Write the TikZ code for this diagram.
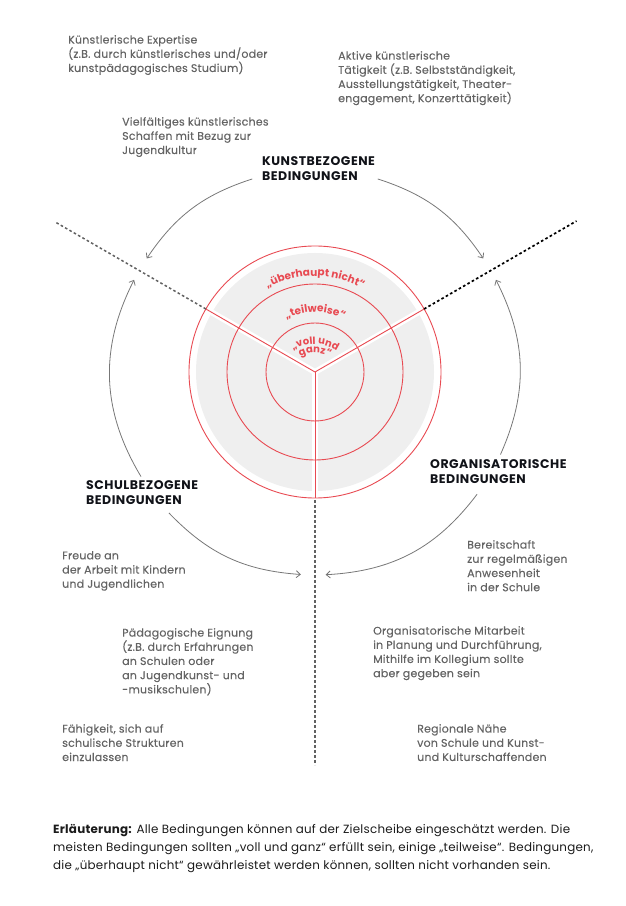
\documentclass[tikz,border=0pt]{standalone}
\usepackage{fontspec}
\setmainfont{Poppins}
\newfontfamily\headfont[LetterSpace=4]{Poppins}
\newfontfamily\descfont[LetterSpace=2,FakeBold=0.25]{Poppins}
\newfontfamily\captfont[LetterSpace=2]{Poppins}
\usetikzlibrary{arrows.meta,decorations.text}
\definecolor{ringred}{HTML}{E84A52}
\definecolor{ringgrey}{HTML}{EFEFEF}
\definecolor{txtgrey}{HTML}{646464}
\definecolor{arcgrey}{HTML}{777777}
\definecolor{headblack}{HTML}{101218}
\definecolor{capblack}{HTML}{1B1B1B}
\newcommand\ringfont{\fontsize{10.5}{10.5}\selectfont\bfseries}
\newcommand\innerfont{\fontsize{10}{10}\selectfont\bfseries}
\begin{document}
\begin{tikzpicture}[x=1pt,y=1pt,
  desc/.style={anchor=north west, inner sep=0pt, align=left, text=txtgrey, font=\descfont\fontsize{11}{14.2}\selectfont},
  head/.style={anchor=north west, inner sep=0pt, align=left, text=headblack, font=\headfont\bfseries\fontsize{12.5}{15}\selectfont},
  capt/.style={anchor=north west, inner sep=0pt, align=left, text=capblack, font=\captfont\fontsize{11.9}{18}\selectfont},
  conn/.style={draw=arcgrey, line width=0.8pt, -{Straight Barb[length=4pt,width=7pt]}},
  redline/.style={draw=ringred, line width=0.9pt},
  gap/.style={draw=white, line width=6pt},
  divgrey/.style={draw=black!62, line width=1.5pt, dash pattern=on 2.6pt off 2.4pt},
  divblack/.style={draw=black, line width=1.7pt, dash pattern=on 2.6pt off 2.4pt},
  ringtext/.style={decorate, decoration={text along path, text align=center, text color=ringred}}
]
\useasboundingbox (0,0) rectangle (625,906);
\coordinate (C) at (315,534);

% target
\fill[ringgrey] (C) circle[radius=119];
\draw[gap, shift={(240:3)}] (C) -- ++(150:126);
\draw[gap, shift={(300:3)}] (C) -- ++(30:126);
\draw[gap, shift={(0:3)}] (C) -- ++(270:126);
\draw[redline] (C) circle[radius=126];
\draw[redline] (C) circle[radius=88];
\draw[redline] (C) circle[radius=49];
\coordinate (o150) at ([shift={(150:126)}]C);
\coordinate (o30) at ([shift={(30:126)}]C);
\coordinate (o270) at ([shift={(270:126)}]C);
\draw[redline] (C) -- (o150);
\draw[redline] (C) -- (o30);
\draw[redline] (C) -- (o270);

% ring texts
\path[ringtext, decoration={text={|\ringfont|„überhaupt nicht“}}]
  ([shift={(170:96)}]C) arc[start angle=170, end angle=10, radius=96];
\path[ringtext, decoration={text={|\ringfont|„teilweise“}}]
  ([shift={(175:60)}]C) arc[start angle=175, end angle=5, radius=60];
\coordinate (Cv) at (315,524);
\coordinate (Cg) at (315,522);
\path[ringtext, decoration={text={|\innerfont|„voll und}}]
  ([shift={(160:38)}]Cv) arc[start angle=160, end angle=20, radius=38];
\path[ringtext, decoration={text={|\innerfont|ganz“}}]
  ([shift={(150:31)}]Cg) arc[start angle=150, end angle=30, radius=31];

% dividing dotted lines
\coordinate (e150) at ([shift={(150:300)}]C);
\coordinate (e30) at ([shift={(30:302)}]C);
\coordinate (e270) at ([shift={(270:393)}]C);
\draw[divgrey] (o150) -- (e150);
\draw[divblack] (o30) -- (e30);
\draw[divgrey] ([shift={(270:2)}]o270) -- (e270);

% headings
\node[head] (kunst) at (262,750) {KUNSTBEZOGENE\\BEDINGUNGEN};
\node[head] (schul) at (86,426) {SCHULBEZOGENE\\BEDINGUNGEN};
\node[head] (orga) at (430,447) {ORGANISATORISCHE\\BEDINGUNGEN};

% arcs
\coordinate (a1s) at ([shift={(108:203)}]C);
\coordinate (a1e) at ([shift={(146:203)}]C);
\coordinate (a2s) at ([shift={(72:203)}]C);
\coordinate (a2e) at ([shift={(34:203)}]C);
\coordinate (a3s) at ([shift={(211:203)}]C);
\coordinate (a3e) at ([shift={(153:203)}]C);
\coordinate (a4s) at ([shift={(224:203)}]C);
\coordinate (a4e) at ([shift={(266:203)}]C);
\coordinate (a5s) at ([shift={(-24:203)}]C);
\coordinate (a5e) at ([shift={(27:203)}]C);
\coordinate (a6s) at ([shift={(-37:203)}]C);
\coordinate (a6e) at ([shift={(-87:203)}]C);
\draw[conn] (a1s) to[bend right=19] (a1e);
\draw[conn] (a2s) to[bend left=19] (a2e);
\draw[conn] (a3s) to[bend left=29] (a3e);
\draw[conn] (a4s) to[bend right=21] (a4e);
\draw[conn] (a5s) to[bend right=25.5] (a5e);
\draw[conn] (a6s) to[bend left=25] (a6e);

% descriptions
\node[desc] (d1) at (68,871) {Künstlerische Expertise\\(z.B. durch künstlerisches und/oder\\kunstpädagogisches Studium)};
\node[desc] (d2) at (338,855) {Aktive künstlerische\\Tätigkeit (z.B. Selbstständigkeit,\\Ausstellungstätigkeit, Theater-\\engagement, Konzerttätigkeit)};
\node[desc] (d3) at (122,789) {Vielfältiges künstlerisches\\Schaffen mit Bezug zur\\Jugendkultur};
\node[desc] (d4) at (62,355) {Freude an\\der Arbeit mit Kindern\\und Jugendlichen};
\node[desc] (d5) at (467,366) {Bereitschaft\\zur regelmäßigen\\Anwesenheit\\in der Schule};
\node[desc] (d6) at (122,278) {Pädagogische Eignung\\(z.B. durch Erfahrungen\\an Schulen oder\\an Jugendkunst- und\\-musikschulen)};
\node[desc] (d7) at (373,280) {Organisatorische Mitarbeit\\in Planung und Durchführung,\\Mithilfe im Kollegium sollte\\aber gegeben sein};
\node[desc] (d8) at (62,182) {Fähigkeit, sich auf\\schulische Strukturen\\einzulassen};
\node[desc] (d9) at (417,182) {Regionale Nähe\\von Schule und Kunst-\\und Kulturschaffenden};

% caption
\node[capt] (cap) at (53,82) {\textbf{Erläuterung:} Alle Bedingungen können auf der Zielscheibe eingeschätzt werden. Die\\meisten Bedingungen sollten „voll und ganz“ erfüllt sein, einige „teilweise“. Bedingungen,\\die „überhaupt nicht“ gewährleistet werden können, sollten nicht vorhanden sein.};
\end{tikzpicture}
\end{document}
